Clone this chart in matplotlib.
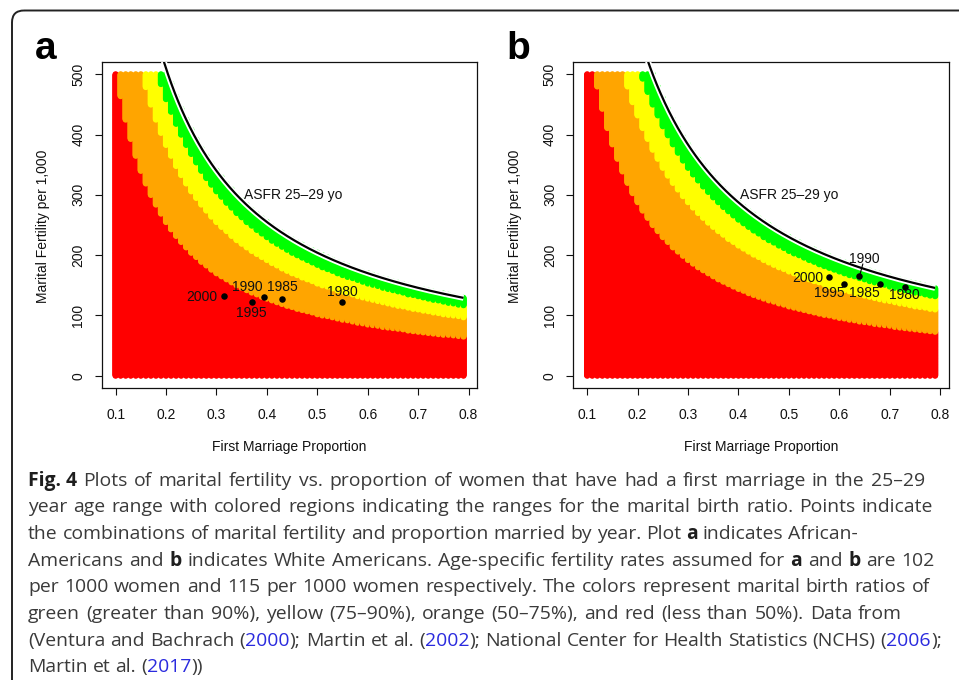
import re
import numpy as np
import matplotlib
matplotlib.use("Agg")
import matplotlib.pyplot as plt
import matplotlib.patheffects as pe
from matplotlib import font_manager as fm
from matplotlib.patches import FancyBboxPatch

W, H, DPI = 959, 680, 100

# ---- data -----------------------------------------------------------------
asfr_a = 102          # age-specific fertility rate, African-Americans 25-29
asfr_b = 115          # age-specific fertility rate, White Americans 25-29
years = [1980, 1985, 1990, 1995, 2000]
prop_a = [0.55, 0.43, 0.395, 0.37, 0.315]
mf_a = [122, 128, 131, 122, 132]
prop_b = [0.73, 0.68, 0.64, 0.61, 0.58]
mf_b = [147, 152, 165, 152, 163]

x_ticks = [0.1, 0.2, 0.3, 0.4, 0.5, 0.6, 0.7, 0.8]
y_ticks = [0, 100, 200, 300, 400, 500]

ratio_breaks = [0.5, 0.75, 0.9]
region_colors = np.array(["#FF0000", "#FFA500", "#FFFF00", "#00FF00"])

prop_grid = np.round(np.arange(0.10, 0.795, 0.01), 2)
mf_grid = np.arange(0, 501, 1)

# ---- fonts ----------------------------------------------------------------
AX_FONT = ["Liberation Sans", "DejaVu Sans"]


def font_path(family, weight):
    try:
        return fm.findfont(fm.FontProperties(family=family, weight=weight),
                           fallback_to_default=False)
    except Exception:
        return None


def pick_caption_fonts():
    for fam in ["Open Sans", "Noto Sans", "Lato", "Liberation Sans"]:
        reg = font_path(fam, "normal")
        bold = font_path(fam, "bold")
        if reg and bold and reg != bold:
            return fm.FontProperties(fname=reg), fm.FontProperties(fname=bold)
    reg = font_path("Noto Sans", "normal") or font_path("DejaVu Sans", "normal")
    bold = font_path("DejaVu Sans", "bold")
    return fm.FontProperties(fname=reg), fm.FontProperties(fname=bold)


CAP_REG, CAP_BOLD = pick_caption_fonts()
CAP_COLOR = "#3a3a3a"
LINK_COLOR = "#2a2ade"

fig = plt.figure(figsize=(W / DPI, H / DPI), dpi=DPI)
bg = fig.add_axes([0, 0, 1, 1], zorder=0)
bg.set_xlim(0, W)
bg.set_ylim(H, 0)
bg.axis("off")

# rounded frame around the figure
bg.add_patch(FancyBboxPatch((12, 10.5), 1100, 800,
                            boxstyle="round,pad=0,rounding_size=12",
                            fill=False, ec="#222222", lw=1.4))


def px_rect(left, top, right, bottom):
    return [left / W, 1 - bottom / H, (right - left) / W, (bottom - top) / H]


def draw_panel(rect, asfr, prop, mf, offsets, leader, asfr_x, letter, letter_xy):
    ax = fig.add_axes(rect, zorder=2)
    P, M = np.meshgrid(prop_grid, mf_grid, indexing="ij")
    P, M = P.ravel(), M.ravel()
    ratio = P * M / asfr
    keep = ratio <= 1.0
    idx = np.digitize(ratio[keep], ratio_breaks)
    ax.scatter(P[keep], M[keep], c=region_colors[idx], s=20, linewidths=0,
               marker="o", zorder=1)

    xs = np.linspace(prop_grid[0], prop_grid[-1], 400)
    ax.plot(xs, asfr / xs, color="black", lw=1.6, zorder=3, solid_capstyle="butt",
            path_effects=[pe.Stroke(linewidth=4.2, foreground="white"), pe.Normal()])
    ax.text(asfr_x, 300, "ASFR 25\u201329 yo", fontsize=10, family=AX_FONT,
            ha="left", va="center", color="#111111", zorder=4)

    ax.scatter(prop, mf, s=22, color="black", linewidths=0, zorder=5)
    for yr, x, y in zip(years, prop, mf):
        dx, dy, ha = offsets[yr]
        ax.annotate(str(yr), (x, y), xytext=(dx, dy - 5),
                    textcoords="offset pixels", ha=ha, va="baseline",
                    fontsize=10, family=AX_FONT, color="#111111", zorder=6)
        if yr in leader:
            ax.annotate("", (x, y), xytext=leader[yr], textcoords="offset pixels",
                        arrowprops=dict(arrowstyle="-", lw=0.8, color="black",
                                        shrinkA=0, shrinkB=0), zorder=6)

    span = prop_grid[-1] - prop_grid[0]
    ax.set_xlim(prop_grid[0] - 0.04 * span, prop_grid[-1] + 0.04 * span)
    ax.set_ylim(-20, 520)
    ax.set_xticks(x_ticks)
    ax.set_xticklabels([f"{v:.1f}" for v in x_ticks])
    ax.set_yticks(y_ticks)
    ax.set_yticklabels([str(v) for v in y_ticks], rotation=90, va="center")
    ax.tick_params(axis="x", direction="out", length=5, width=0.8, pad=9.5,
                   labelsize=10, colors="#111111")
    ax.tick_params(axis="y", direction="out", length=5, width=0.8, pad=6.8,
                   labelsize=10, colors="#111111")
    for lab in ax.get_xticklabels() + ax.get_yticklabels():
        lab.set_family(AX_FONT)
    for sp in ax.spines.values():
        sp.set_linewidth(0.9)
        sp.set_color("#111111")
    ax.text(0.5, -0.1813, "First Marriage Proportion", transform=ax.transAxes,
            ha="center", va="center", fontsize=10, family=AX_FONT, color="#111111")
    ax.text(-0.155, 0.4975, "Marital Fertility per 1,000", transform=ax.transAxes,
            ha="center", va="center", rotation=90, fontsize=10, family=AX_FONT,
            color="#111111")
    bg.text(letter_xy[0], letter_xy[1], letter, fontsize=28, fontweight="bold",
            family=AX_FONT, ha="left", va="baseline", color="black")
    return ax


offsets_a = {2000: (-7, 0, "right"), 1995: (0, -10, "center"),
             1990: (-16.6, 11, "center"), 1985: (0, 12.4, "center"),
             1980: (0, 11.3, "center")}
offsets_b = {2000: (-6, 0, "right"), 1995: (-15, -7.7, "center"),
             1990: (5, 18.7, "center"), 1985: (-15, -7.7, "center"),
             1980: (0, -7, "center")}

draw_panel(px_rect(101.7, 62.3, 477.4, 387.7), asfr_a, prop_a, mf_a,
           offsets_a, {}, 0.354, "a", (35, 59.3))
draw_panel(px_rect(573.3, 62.3, 949.0, 387.7), asfr_b, prop_b, mf_b,
           offsets_b, {1990: (3.4, 12.3)}, 0.404, "b", (506.7, 59.3))

# ---- caption --------------------------------------------------------------
caption_lines = [
    "**Fig.~4** Plots of marital fertility vs. proportion of women that have had a first marriage in the 25\u201329",
    "year age range with colored regions indicating the ranges for the marital birth ratio. Points indicate",
    "the combinations of marital fertility and proportion married by year. Plot **a** indicates African-",
    "Americans and **b** indicates White Americans. Age-specific fertility rates assumed for **a** and **b** are 102",
    "per 1000 women and 115 per 1000 women respectively. The colors represent marital birth ratios of",
    "green (greater than 90%), yellow (75\u201390%), orange (50\u201375%), and red (less than 50%). Data from",
    "(Ventura and Bachrach ([2000]); Martin et al. ([2002]); National Center for Health Statistics (NCHS) ([2006]);",
    "Martin et al. ([2017]))",
]
line_right = [925, 933, 858, 935, 930, 902, 942, None]
CAP_LEFT = 28
CAP_BASE0 = 485.7
CAP_STEP = 26.65

fig.canvas.draw()
renderer = fig.canvas.get_renderer()


def measure(s, size, bold=False):
    t = bg.text(0, 0, s, fontproperties=CAP_BOLD if bold else CAP_REG)
    t.set_fontsize(size)
    w = t.get_window_extent(renderer).width
    t.remove()
    return w


# caption size chosen so the closing line spans its measured width
cap_size = 12.0 * 174.0 / measure("Martin et al. (2017))", 12.0)
space_w = measure("a a", cap_size) - measure("aa", cap_size)


def parse_word(word):
    word = word.replace("~", " ")
    if word.startswith("**") and word.endswith("**"):
        return [(word[2:-2], "bold")]
    segs = []
    for part in re.split(r"(\[[^\]]*\])", word):
        if not part:
            continue
        if part.startswith("["):
            segs.append((part[1:-1], "link"))
        else:
            segs.append((part, "plain"))
    return segs


def put(x, y, s, style):
    t = bg.text(x, y, s, fontproperties=CAP_BOLD if style == "bold" else CAP_REG,
                ha="left", va="baseline",
                color={"bold": "#1e1e1e", "link": LINK_COLOR}.get(style, CAP_COLOR))
    t.set_fontsize(cap_size)


for i, (line, right) in enumerate(zip(caption_lines, line_right)):
    y = CAP_BASE0 + i * CAP_STEP
    words = [parse_word(w) for w in line.split(" ")]
    layout = []
    for segs in words:
        bold = segs[0][1] == "bold"
        full = "".join(s for s, _ in segs)
        wfull = measure(full, cap_size, bold)
        offs = []
        acc = ""
        for s, _ in segs:
            acc += s
            offs.append(measure(acc, cap_size, bold) - measure(s, cap_size, bold))
        layout.append((segs, offs, wfull))
    total = sum(l[2] for l in layout)
    if right is None or len(layout) < 2:
        gap = space_w
    else:
        gap = (right - CAP_LEFT - total) / (len(layout) - 1)
    x = CAP_LEFT
    for segs, offs, wfull in layout:
        for (s, sty), o in zip(segs, offs):
            put(x + o, y, s, sty)
        x += wfull + gap

fig.savefig("out.png", dpi=DPI)
